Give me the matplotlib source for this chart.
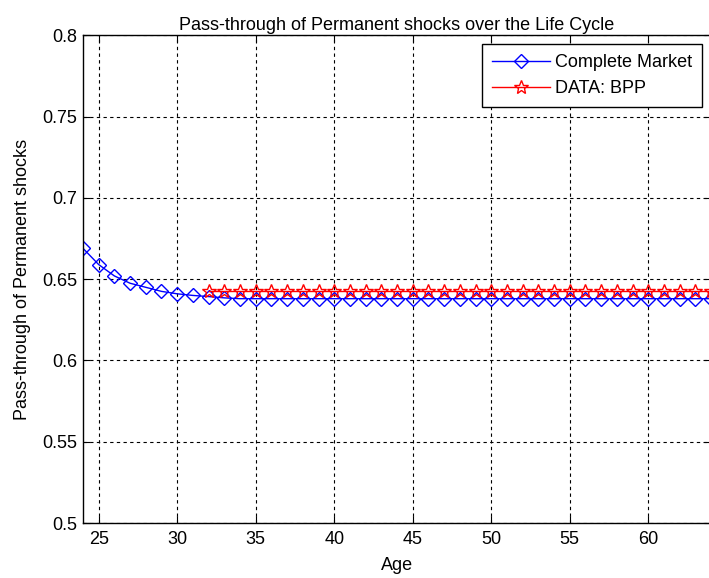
import matplotlib
matplotlib.use('Agg')
import matplotlib.pyplot as plt

plt.rcParams['font.family'] = ['Liberation Sans', 'DejaVu Sans']

# life-cycle ages and pass-through values
ages = list(range(24, 65))
complete_market = [0.669, 0.659, 0.652, 0.6475, 0.645, 0.6425, 0.641, 0.640, 0.6393, 0.6385,
                   0.638, 0.638, 0.638, 0.638, 0.638, 0.638, 0.638, 0.638, 0.638, 0.638,
                   0.638, 0.638, 0.638, 0.638, 0.638, 0.638, 0.638, 0.638, 0.638, 0.638,
                   0.638, 0.638, 0.638, 0.638, 0.638, 0.638, 0.638, 0.638, 0.638, 0.638,
                   0.638]
bpp_ages = list(range(32, 65))
bpp = [0.643] * len(bpp_ages)

xticks = [25, 30, 35, 40, 45, 50, 55, 60]
yticks = [0.5, 0.55, 0.6, 0.65, 0.7, 0.75, 0.8]
yticklabels = ['0.5', '0.55', '0.6', '0.65', '0.7', '0.75', '0.8']

fs = 13

fig = plt.figure(figsize=(7.09, 5.78), dpi=100)
ax = fig.add_axes([0.117, 0.095, 0.886, 0.844])

ax.plot(ages, complete_market, color='blue', lw=1, marker='D', markersize=7,
        markerfacecolor='none', markeredgecolor='blue', markeredgewidth=1,
        label='Complete Market')
ax.plot(bpp_ages, bpp, color='red', lw=1, marker='*', markersize=10,
        markerfacecolor='none', markeredgecolor='red', markeredgewidth=1,
        label='DATA: BPP')

ax.set_xlim(24, 64)
ax.set_ylim(0.5, 0.8)
ax.set_xticks(xticks)
ax.set_yticks(yticks)
ax.set_yticklabels(yticklabels)
ax.tick_params(direction='in', top=True, right=True, labelsize=fs, length=5)
ax.tick_params(axis='x', pad=6)
ax.tick_params(axis='y', pad=4)
ax.grid(True, color='black', linestyle=(0, (3, 3)), linewidth=0.8)
for s in ax.spines.values():
    s.set_linewidth(1)

ax.set_title('Pass-through of Permanent shocks over the Life Cycle', fontsize=fs, pad=4)
ax.set_xlabel('Age', fontsize=fs, labelpad=6)
ax.set_ylabel('Pass-through of Permanent shocks', fontsize=fs, labelpad=8)

leg = ax.legend(loc='upper right', fontsize=fs, handlelength=3.2, handletextpad=0.3,
                fancybox=False, edgecolor='black', framealpha=1, borderaxespad=0.5,
                labelspacing=0.5, borderpad=0.55)
leg.get_frame().set_linewidth(1)

fig.savefig('out.png', dpi=100)
